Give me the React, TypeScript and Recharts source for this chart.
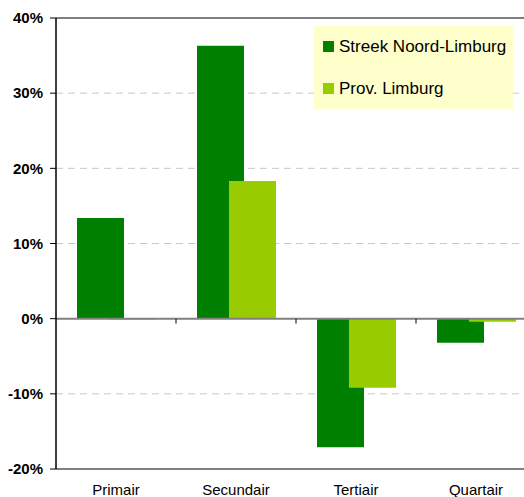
import { BarChart, Bar, XAxis, YAxis, CartesianGrid, Legend, ReferenceLine } from 'recharts';

const categories = ['Primair', 'Secundair', 'Tertiair', 'Quartair'];
const streekNoordLimburg = [13.4, 36.3, -17.1, -3.2];
const provLimburg = [-0.1, 18.3, -9.2, -0.4];
const yTicks = [-20, -10, 0, 10, 20, 30, 40];

const seriesNames = ['Streek Noord-Limburg', 'Prov. Limburg'];
const seriesColors = ['#008000', '#99CC00'];

const chartData = categories.map((name, i) => ({
  name,
  streek: streekNoordLimburg[i],
  prov: provLimburg[i],
}));

const FONT = '"Liberation Sans", Arial, sans-serif';

function LegendBox() {
  return (
    <div
      style={{
        background: '#FFFFCC',
        width: 199,
        height: 83,
        boxSizing: 'border-box',
        paddingTop: 10,
        paddingLeft: 9,
        fontFamily: FONT,
        fontSize: 17,
        color: '#000',
      }}
    >
      {seriesNames.map((label, i) => (
        <div key={label} style={{ display: 'flex', alignItems: 'center', height: 21, marginBottom: i === 0 ? 21 : 0 }}>
          <span style={{ display: 'inline-block', width: 11, height: 11, background: seriesColors[i], marginRight: 5 }} />
          <span>{label}</span>
        </div>
      ))}
    </div>
  );
}

// zero line with the small category separators hanging below it
const ZeroLine = (props: any) => {
  const { x1, x2, y1 } = props;
  const step = (x2 - x1) / categories.length;
  return (
    <g>
      <line x1={x1} x2={x2} y1={y1} y2={y1} stroke="#808080" strokeWidth={2} />
      {categories.slice(1).map((c, i) => (
        <line key={c} x1={x1 + step * (i + 1)} x2={x1 + step * (i + 1)} y1={y1} y2={y1 + 5} stroke="#000" strokeWidth={1} />
      ))}
    </g>
  );
};

export default function App() {
  return (
    <div style={{ position: 'absolute', left: 0, top: 0, width: 524, height: 497, overflow: 'hidden', background: '#fff' }}>
      <BarChart
        width={536}
        height={497}
        data={chartData}
        margin={{ top: 18, right: 0, bottom: 0, left: 0 }}
        barSize={47}
        barGap={-15}
      >
        <CartesianGrid vertical={false} stroke="#c8c8c8" strokeDasharray="7 5" />
        <XAxis
          dataKey="name"
          height={28}
          axisLine={false}
          tickLine={false}
          tickMargin={9}
          tick={{ fill: '#000', fontSize: 15, fontFamily: FONT }}
        />
        <YAxis
          width={56}
          domain={[-20, 40]}
          ticks={yTicks}
          interval={0}
          tickFormatter={(v) => `${v}%`}
          axisLine={{ stroke: '#000', strokeWidth: 1.5 }}
          tickLine={{ stroke: '#000' }}
          tickSize={6}
          tickMargin={7}
          tick={{ fill: '#000', fontSize: 15, fontWeight: 'bold', fontFamily: FONT }}
        />
        <ReferenceLine y={40} stroke="#808080" strokeWidth={2} />
        <ReferenceLine y={-20} stroke="#808080" strokeWidth={2} />
        <Bar dataKey="streek" name={seriesNames[0]} fill={seriesColors[0]} isAnimationActive={false} />
        <Bar dataKey="prov" name={seriesNames[1]} fill={seriesColors[1]} isAnimationActive={false} />
        <ReferenceLine y={0} shape={ZeroLine} />
        <Legend
          content={<LegendBox />}
          layout="vertical"
          align="center"
          verticalAlign="middle"
          wrapperStyle={{ position: 'absolute', top: 26, left: 314, width: 199, height: 83 }}
        />
      </BarChart>
    </div>
  );
}
